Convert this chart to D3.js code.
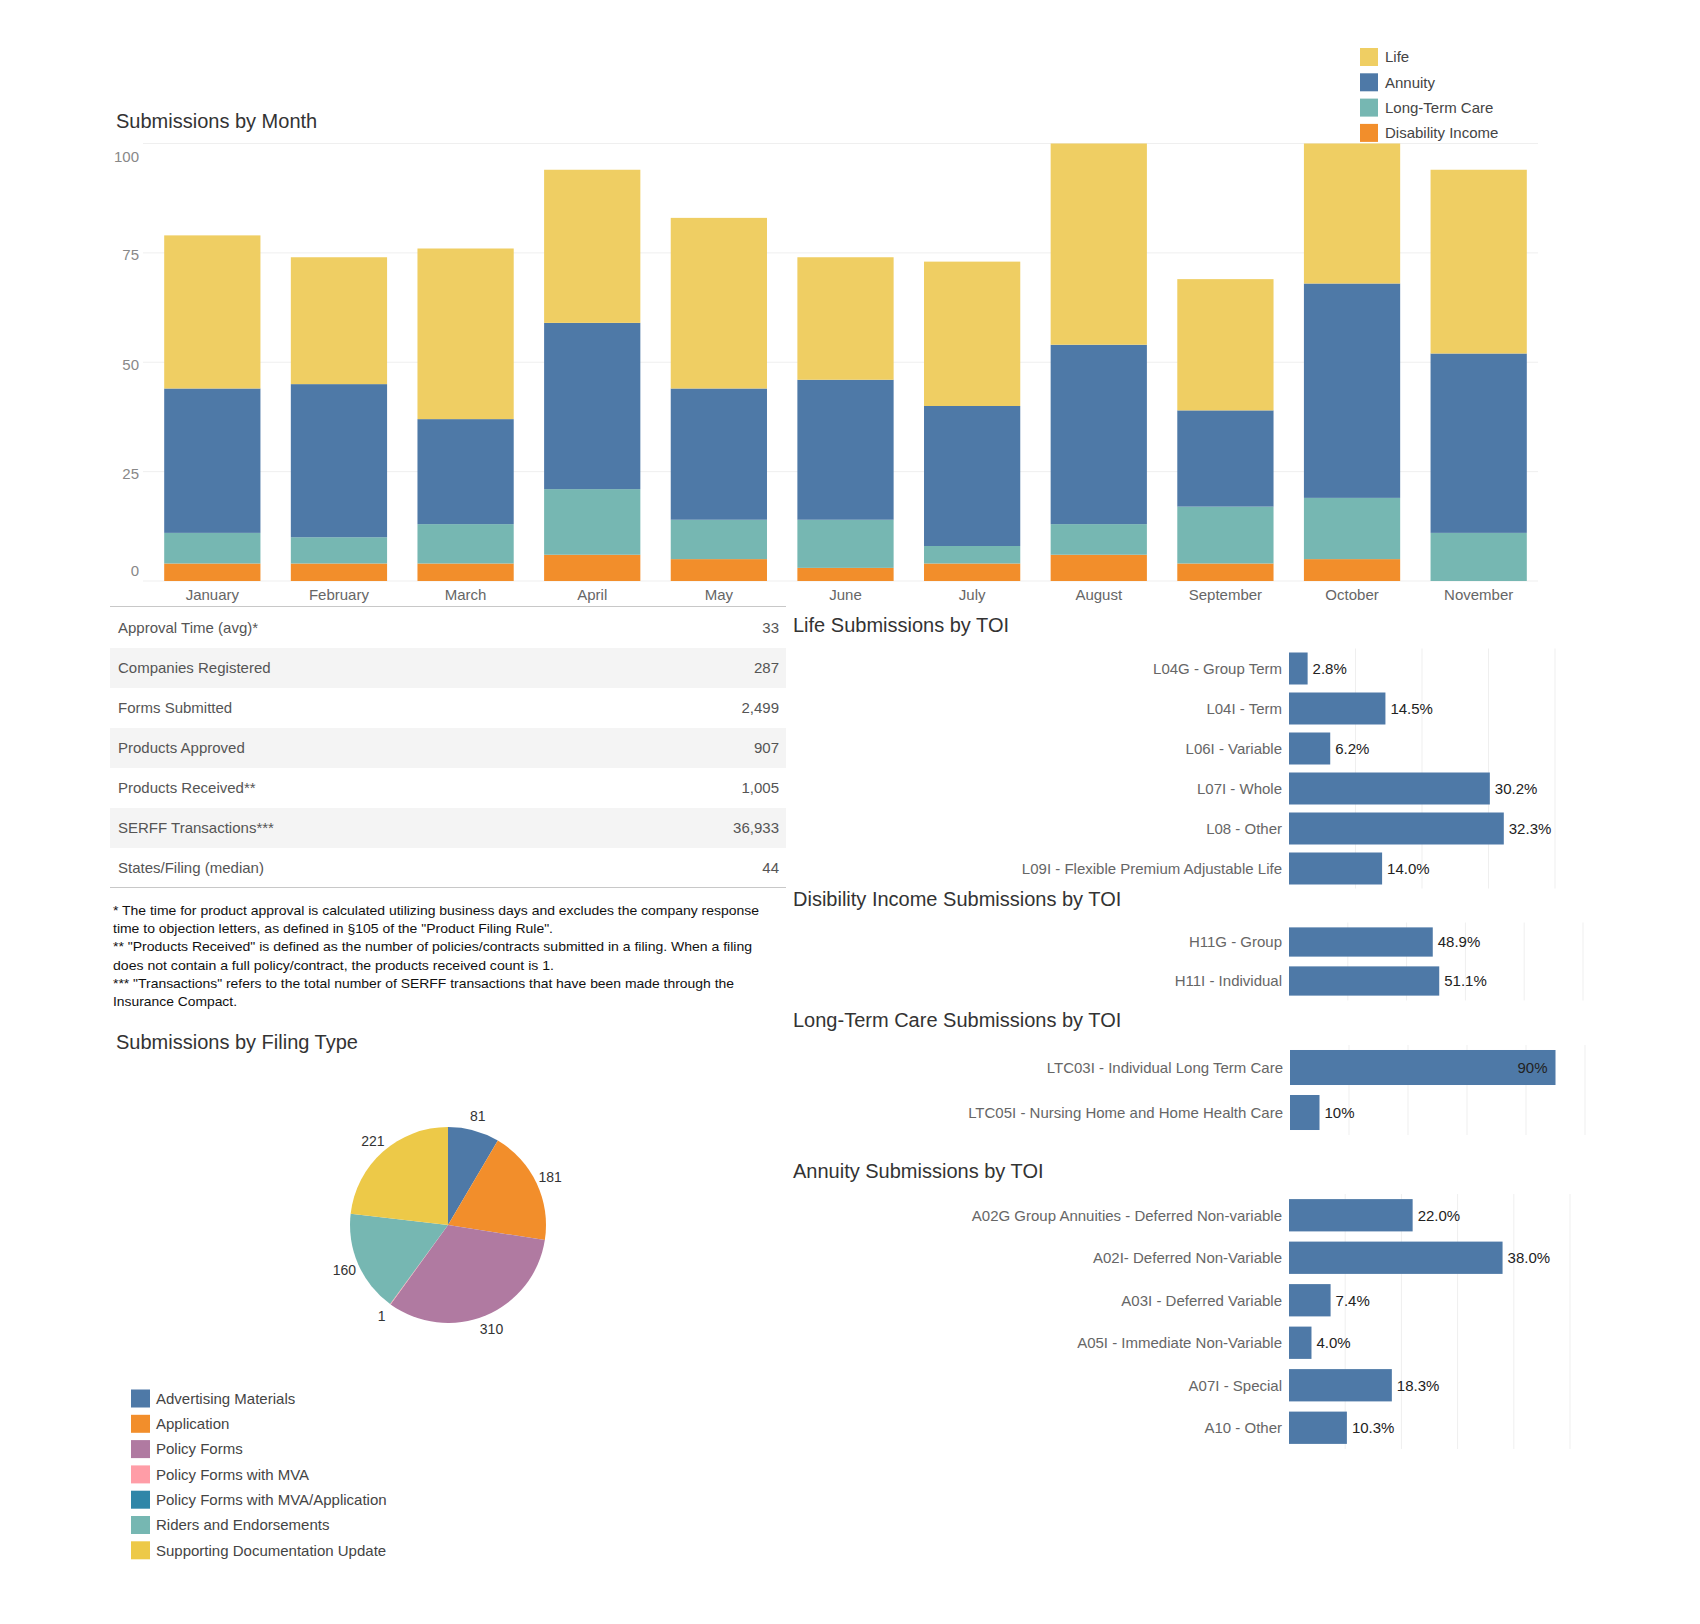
<!DOCTYPE html>
<html>
<head>
<meta charset="utf-8">
<script src="https://cdn.jsdelivr.net/npm/d3@7"></script>
<style>
  html, body { margin: 0; padding: 0; background: #ffffff; }
  svg { display: block; font-family: "Liberation Sans", Arial, sans-serif; }
</style>
</head>
<body>
<script>
// ---------------- DATA ----------------
const months = ["January","February","March","April","May","June","July","August","September","October","November"];
const lifeVals       = [35, 29, 39, 35, 39, 28, 33, 46, 30, 32, 42];
const annuityVals    = [33, 35, 24, 38, 30, 32, 32, 41, 22, 49, 41];
const ltcVals        = [ 7,  6,  9, 15,  9, 11,  4,  7, 13, 14, 11];
const disabilityVals = [ 4,  4,  4,  6,  5,  3,  4,  6,  4,  5,  0];
const monthYTicks = [0, 25, 50, 75, 100];
const productLines = ["Life", "Annuity", "Long-Term Care", "Disability Income"];

const statLabels = ["Approval Time (avg)*", "Companies Registered", "Forms Submitted", "Products Approved", "Products Received**", "SERFF Transactions***", "States/Filing (median)"];
const statValues = ["33", "287", "2,499", "907", "1,005", "36,933", "44"];

const footnotes = [
  "* The time for product approval is calculated utilizing business days and excludes the company response",
  "time to objection letters, as defined in \u00a7105 of the \"Product Filing Rule\".",
  "** \"Products Received\" is defined as the number of policies/contracts submitted in a filing. When a filing",
  "does not contain a full policy/contract, the products received count is 1.",
  "*** \"Transactions\" refers to the total number of SERFF transactions that have been made through the",
  "Insurance Compact."
];

const lifeToi = ["L04G - Group Term", "L04I - Term", "L06I - Variable", "L07I - Whole", "L08 - Other", "L09I - Flexible Premium Adjustable Life"];
const lifePct = [2.8, 14.5, 6.2, 30.2, 32.3, 14.0];

const diToi = ["H11G - Group", "H11I - Individual"];
const diPct = [48.9, 51.1];

const ltcToi = ["LTC03I - Individual Long Term Care", "LTC05I  - Nursing Home and Home Health Care"];
const ltcPct = [90, 10];

const annToi = ["A02G Group Annuities - Deferred Non-variable", "A02I- Deferred Non-Variable", "A03I - Deferred Variable", "A05I - Immediate Non-Variable", "A07I - Special", "A10 - Other"];
const annPct = [22.0, 38.0, 7.4, 4.0, 18.3, 10.3];

const filingTypes = ["Advertising Materials", "Application", "Policy Forms", "Policy Forms with MVA", "Policy Forms with MVA/Application", "Riders and Endorsements", "Supporting Documentation Update"];
const filingCounts = [81, 181, 310, 1, 0, 160, 221];

// ---------------- STYLE ----------------
const lineColors = { "Life": "#efce63", "Annuity": "#4e79a7", "Long-Term Care": "#76b7b2", "Disability Income": "#f28e2b" };
const filingColors = ["#4e79a7", "#f28e2b", "#b07aa1", "#ff9da7", "#2f86a8", "#76b7b2", "#edc948"];
const barBlue = "#4e79a7";
const gridColor = "#efefef";

const svg = d3.select("body").append("svg").attr("width", 1700).attr("height", 1624);

// ---------------- SUBMISSIONS BY MONTH ----------------
svg.append("text").attr("x", 116).attr("y", 128).attr("font-size", 20).attr("fill", "#333").text("Submissions by Month");

const monthRows = months.map((m, i) => ({
  month: m,
  "Disability Income": disabilityVals[i],
  "Long-Term Care": ltcVals[i],
  "Annuity": annuityVals[i],
  "Life": lifeVals[i]
}));
const stackKeys = ["Disability Income", "Long-Term Care", "Annuity", "Life"];
const stacked = d3.stack().keys(stackKeys)(monthRows);

const xM = d3.scaleBand().domain(months).range([149, 1542]).paddingInner(0.24).paddingOuter(0.12);
const yM = d3.scaleLinear().domain([0, 100]).range([581, 143.5]);

svg.append("g").selectAll("line").data(monthYTicks).join("line")
  .attr("x1", 143).attr("x2", 1538)
  .attr("y1", d => yM(d)).attr("y2", d => yM(d))
  .attr("stroke", gridColor).attr("stroke-width", 1);

svg.append("g").selectAll("g").data(stacked).join("g")
  .attr("fill", d => lineColors[d.key])
  .selectAll("rect").data(d => d).join("rect")
  .attr("x", d => xM(d.data.month))
  .attr("width", xM.bandwidth())
  .attr("y", d => yM(d[1]))
  .attr("height", d => Math.max(0, yM(d[0]) - yM(d[1])));

const yAxis = svg.append("g").attr("transform", "translate(139,0)")
  .call(d3.axisLeft(yM).tickValues(monthYTicks).tickSize(0).tickPadding(0));
yAxis.select(".domain").remove();
yAxis.selectAll("text").attr("font-size", 15).attr("fill", "#888").attr("font-family", "Liberation Sans, Arial, sans-serif")
  .attr("dy", d => d === 100 ? "1.2em" : d === 0 ? "-0.35em" : "0.45em");

const xAxis = svg.append("g").attr("transform", "translate(0,581)")
  .call(d3.axisBottom(xM).tickSize(0).tickPadding(8));
xAxis.select(".domain").remove();
xAxis.selectAll("text").attr("font-size", 15).attr("fill", "#666").attr("font-family", "Liberation Sans, Arial, sans-serif");

// legend
const lg = svg.append("g").selectAll("g").data(productLines).join("g")
  .attr("transform", (d, i) => `translate(1360,${48 + i * 25.3})`);
lg.append("rect").attr("width", 18).attr("height", 18).attr("fill", d => lineColors[d]);
lg.append("text").attr("x", 25).attr("y", 9).attr("dy", "0.35em").attr("font-size", 15).attr("fill", "#444").text(d => d);

// ---------------- STATS TABLE ----------------
const tbl = svg.append("g");
tbl.selectAll("rect").data(statLabels).join("rect")
  .attr("x", 110).attr("width", 676)
  .attr("y", (d, i) => 608 + i * 40).attr("height", 40)
  .attr("fill", (d, i) => i % 2 === 1 ? "#f4f4f4" : "#ffffff");
tbl.selectAll("text.lab").data(statLabels).join("text").attr("class", "lab")
  .attr("x", 118).attr("y", (d, i) => 628 + i * 40).attr("dy", "0.35em")
  .attr("font-size", 15).attr("fill", "#555").text(d => d);
tbl.selectAll("text.val").data(statValues).join("text").attr("class", "val")
  .attr("x", 779).attr("y", (d, i) => 628 + i * 40).attr("dy", "0.35em")
  .attr("text-anchor", "end").attr("font-size", 15).attr("fill", "#555").text(d => d);
tbl.append("line").attr("x1", 110).attr("x2", 786).attr("y1", 606.5).attr("y2", 606.5).attr("stroke", "#c8c8c8");
tbl.append("line").attr("x1", 110).attr("x2", 786).attr("y1", 887.5).attr("y2", 887.5).attr("stroke", "#c8c8c8");

const footLens = [646, 440, 639, 441, 621, 124];
svg.append("g").selectAll("text").data(footnotes).join("text")
  .attr("x", 113).attr("y", (d, i) => 915 + i * 18.2)
  .attr("font-size", 13).attr("fill", "#111")
  .attr("textLength", (d, i) => footLens[i]).attr("lengthAdjust", "spacingAndGlyphs")
  .text(d => d);

// ---------------- HORIZONTAL TOI BARS ----------------
function toiChart(cfg) {
  const g = svg.append("g");
  g.append("text").attr("x", 793).attr("y", cfg.titleY).attr("font-size", 20).attr("fill", "#333").text(cfg.title);
  const x = d3.scaleLinear().domain([0, cfg.max]).range([cfg.x0, cfg.x1]);
  const y = d3.scaleBand().domain(cfg.cats).range(cfg.yRange).paddingInner(cfg.pad).paddingOuter(cfg.pad / 2);
  g.append("g").selectAll("line").data(cfg.grid).join("line")
    .attr("x1", d => x(d)).attr("x2", d => x(d))
    .attr("y1", cfg.yRange[0]).attr("y2", cfg.yRange[1])
    .attr("stroke", gridColor);
  g.append("g").selectAll("rect").data(cfg.vals).join("rect")
    .attr("x", x(0)).attr("y", (d, i) => y(cfg.cats[i]))
    .attr("width", d => x(d) - x(0)).attr("height", y.bandwidth())
    .attr("fill", barBlue);
  g.append("g").selectAll("text").data(cfg.cats).join("text")
    .attr("x", cfg.x0 - 7).attr("y", d => y(d) + y.bandwidth() / 2).attr("dy", "0.35em")
    .attr("text-anchor", "end").attr("font-size", 15).attr("fill", "#666").text(d => d);
  g.append("g").selectAll("text").data(cfg.vals).join("text")
    .attr("x", d => d / cfg.max >= 0.85 ? x(d) - 8 : x(d) + 5)
    .attr("text-anchor", d => d / cfg.max >= 0.85 ? "end" : "start")
    .attr("y", (d, i) => y(cfg.cats[i]) + y.bandwidth() / 2).attr("dy", "0.35em")
    .attr("font-size", 15).attr("fill", "#222")
    .text(d => d3.format(cfg.fmt)(d / 100));
}

toiChart({ title: "Life Submissions by TOI", titleY: 632, cats: lifeToi, vals: lifePct, max: 40,
  x0: 1289, x1: 1555, yRange: [648.5, 888.5], pad: 0.2, grid: [10, 20, 30, 40], fmt: ".1%" });
toiChart({ title: "Disibility Income Submissions by TOI", titleY: 906, cats: diToi, vals: diPct, max: 100,
  x0: 1289, x1: 1583, yRange: [922.5, 1000.5], pad: 0.25, grid: [20, 40, 60, 80, 100], fmt: ".1%" });
toiChart({ title: "Long-Term Care Submissions by TOI", titleY: 1027, cats: ltcToi, vals: ltcPct, max: 100,
  x0: 1290, x1: 1585, yRange: [1045, 1135], pad: 0.222, grid: [20, 40, 60, 80, 100], fmt: ".0%" });
toiChart({ title: "Annuity Submissions by TOI", titleY: 1178, cats: annToi, vals: annPct, max: 50,
  x0: 1289, x1: 1570, yRange: [1194, 1449], pad: 0.24, grid: [10, 20, 30, 40, 50], fmt: ".1%" });

// ---------------- PIE ----------------
svg.append("text").attr("x", 116).attr("y", 1049).attr("font-size", 20).attr("fill", "#333").text("Submissions by Filing Type");

const pieData = d3.pie().sort(null).value(d => d)(filingCounts);
const arc = d3.arc().innerRadius(0).outerRadius(98);
const labelArc = d3.arc().innerRadius(113).outerRadius(113);
const pg = svg.append("g").attr("transform", "translate(448,1225)");
pg.selectAll("path").data(pieData).join("path")
  .attr("d", arc).attr("fill", (d, i) => filingColors[i]);
pg.selectAll("text").data(pieData.filter(d => d.value > 0)).join("text")
  .attr("transform", d => `translate(${labelArc.centroid(d)})`)
  .attr("text-anchor", "middle").attr("dy", "0.35em")
  .attr("font-size", 14).attr("fill", "#333").text(d => d.value);

const plg = svg.append("g").selectAll("g").data(filingTypes).join("g")
  .attr("transform", (d, i) => `translate(131,${1389.5 + i * 25.3})`);
plg.append("rect").attr("width", 19).attr("height", 18).attr("fill", (d, i) => filingColors[i]);
plg.append("text").attr("x", 25).attr("y", 9).attr("dy", "0.35em").attr("font-size", 15).attr("fill", "#444").text(d => d);
</script>
</body>
</html>
